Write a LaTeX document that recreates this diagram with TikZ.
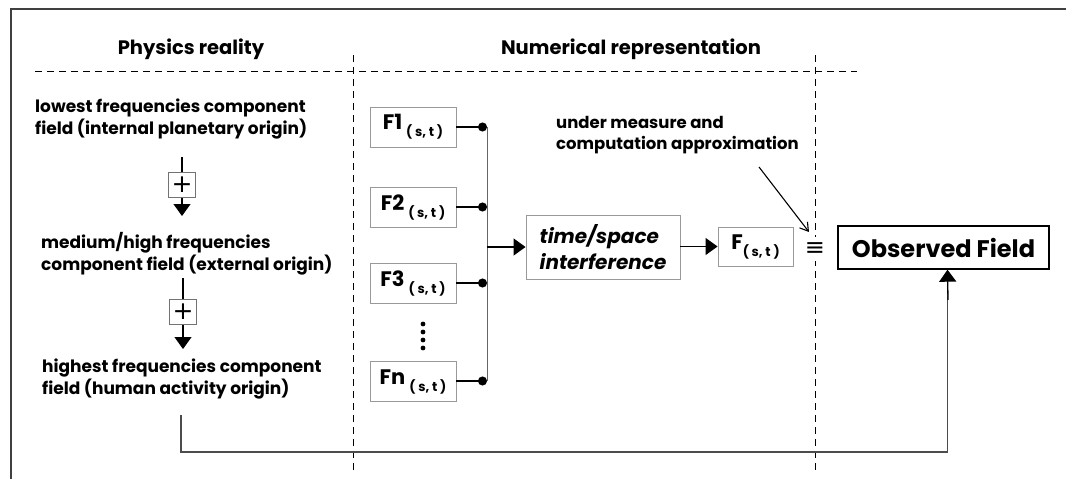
\documentclass[tikz,border=0pt]{standalone}
\usepackage{fontspec}
\setmainfont{Poppins}
\newfontfamily\symfont{DejaVu Sans}
\usetikzlibrary{arrows.meta}
\begin{document}
\begin{tikzpicture}[x=1pt,y=-1pt,
  every node/.style={font=\bfseries},
  frameline/.style={draw=black!75,line width=1.3pt},
  sep/.style={draw=black,line width=0.9pt,dash pattern=on 7pt off 5pt},
  lbl/.style={anchor=west,align=left,font=\bfseries\fontsize{17}{22}\selectfont,inner sep=0pt},
  head/.style={font=\bfseries\fontsize{19.5}{22}\selectfont},
  pbox/.style={draw=black!55,line width=0.8pt,minimum width=27pt,minimum height=25pt,inner sep=0pt,font=\symfont\fontsize{25}{25}\selectfont},
  fbox/.style={draw=black!40,line width=0.9pt,minimum width=86pt,minimum height=40pt,inner sep=0pt},
  conn/.style={draw=black,line width=1.3pt},
  bus/.style={draw=black!60,line width=0.9pt},
  tri/.style={-{Triangle[width=17pt,length=12pt]}},
  dotend/.style={{}-{Circle[length=9pt,width=9pt]}}
]
\useasboundingbox (0,0) rectangle (1066,479);
% frame
\draw[frameline] (1066,9) -- (11,9) -- (11,479);
% separators
\draw[sep] (35,71) -- (857,71);
\draw[sep] (353,55) -- (353,470);
\draw[sep] (815,55) -- (815,470);
% headings
\node[head] (h1) at (191,49) {Physics reality};
\node[head] (h2) at (631,49) {Numerical representation};
% left column
\node[lbl] (t1) at (35,119) {lowest frequencies component\\field (internal planetary origin)};
\node[lbl] (t2) at (41,254) {medium/high frequencies\\component field (external origin)};
\node[lbl] (t3) at (42,379) {highest frequencies component\\field (human activity origin)};
\node[pbox] (p1) at (182,185) {+};
\node[pbox] (p2) at (183,312) {+};
\coordinate (a1) at (182,157);
\coordinate (b1) at (182,216);
\coordinate (a2) at (183,278);
\coordinate (b2) at (183,349);
\draw[conn,line width=1.1pt] (a1) -- (p1.north);
\draw[conn,line width=1.1pt,tri] (p1.south) -- (b1);
\draw[conn,line width=1.1pt] (a2) -- (p2.north);
\draw[conn,line width=1.1pt,tri] (p2.south) -- (b2);
% F boxes
\newcommand{\Fsub}[1]{{\fontsize{21}{21}\selectfont F#1}\hspace{4pt}\raisebox{-7pt}{\fontsize{13}{13}\selectfont ( s, t )}}
\node[fbox] (f1) at (413,127) {\Fsub{1}};
\node[fbox] (f2) at (413,207.5) {\Fsub{2}};
\node[fbox] (f3) at (413,283.5) {\Fsub{3}};
\node[fbox] (fn) at (413,381.5) {\Fsub{n}};
\foreach \yy in {324,332,340,348} \fill (423,\yy) circle (2.4pt);
\coordinate (bf1) at (487,127);
\coordinate (bf2) at (487,207);
\coordinate (bf3) at (487,283);
\coordinate (bfn) at (487,381);
\coordinate (bm) at (487,247);
\draw[bus] (bf1) -- (bfn);
\draw[conn,dotend] (f1.east |- bf1) -- (bf1);
\draw[conn,dotend] (f2.east |- bf2) -- (bf2);
\draw[conn,dotend] (f3.east |- bf3) -- (bf3);
\draw[conn,dotend] (fn.east |- bfn) -- (bfn);
% interference
\node[fbox,minimum width=154pt,minimum height=64pt,align=left,font=\bfseries\itshape\fontsize{20}{26}\selectfont] (ti) at (603,247) {time/space\\interference};
\draw[conn,tri] (bm) -- (ti.west);
\node[fbox,minimum width=75pt,minimum height=39pt] (fs) at (755.5,246.5) {{\fontsize{21}{21}\selectfont F}\raisebox{-7pt}{\fontsize{13}{13}\selectfont ( s, t )}};
\draw[conn,tri] (ti.east |- fs) -- (fs.west);
\node[fill=white,inner xsep=2pt,inner ysep=6pt,font=\symfont\fontsize{24}{24}\selectfont] (eq) at (815,249) {≡};
\node[draw=black,line width=1.4pt,minimum width=211pt,minimum height=43pt,font=\bfseries\fontsize{24}{24}\selectfont] (obs) at (943.5,247.5) {Observed Field};
% annotation
\node[lbl,font=\bfseries\fontsize{16.5}{21}\selectfont] (ann) at (556,135) {under measure and\\computation approximation};
\coordinate (ar0) at (759,167);
\coordinate (ar1) at (809,232);
\draw[line width=1.1pt,-{Straight Barb[length=8pt,width=10pt]}] (ar0) -- (ar1);
% feedback
\coordinate (fb0) at (181,415);
\coordinate (fb1) at (181,452);
\draw[draw=black!70,line width=1.1pt] (fb0) -- (fb1) -| ([xshift=4pt]obs.south);
\draw[conn,tri] (948,300) -- ([xshift=4pt]obs.south);
\end{tikzpicture}
\end{document}
